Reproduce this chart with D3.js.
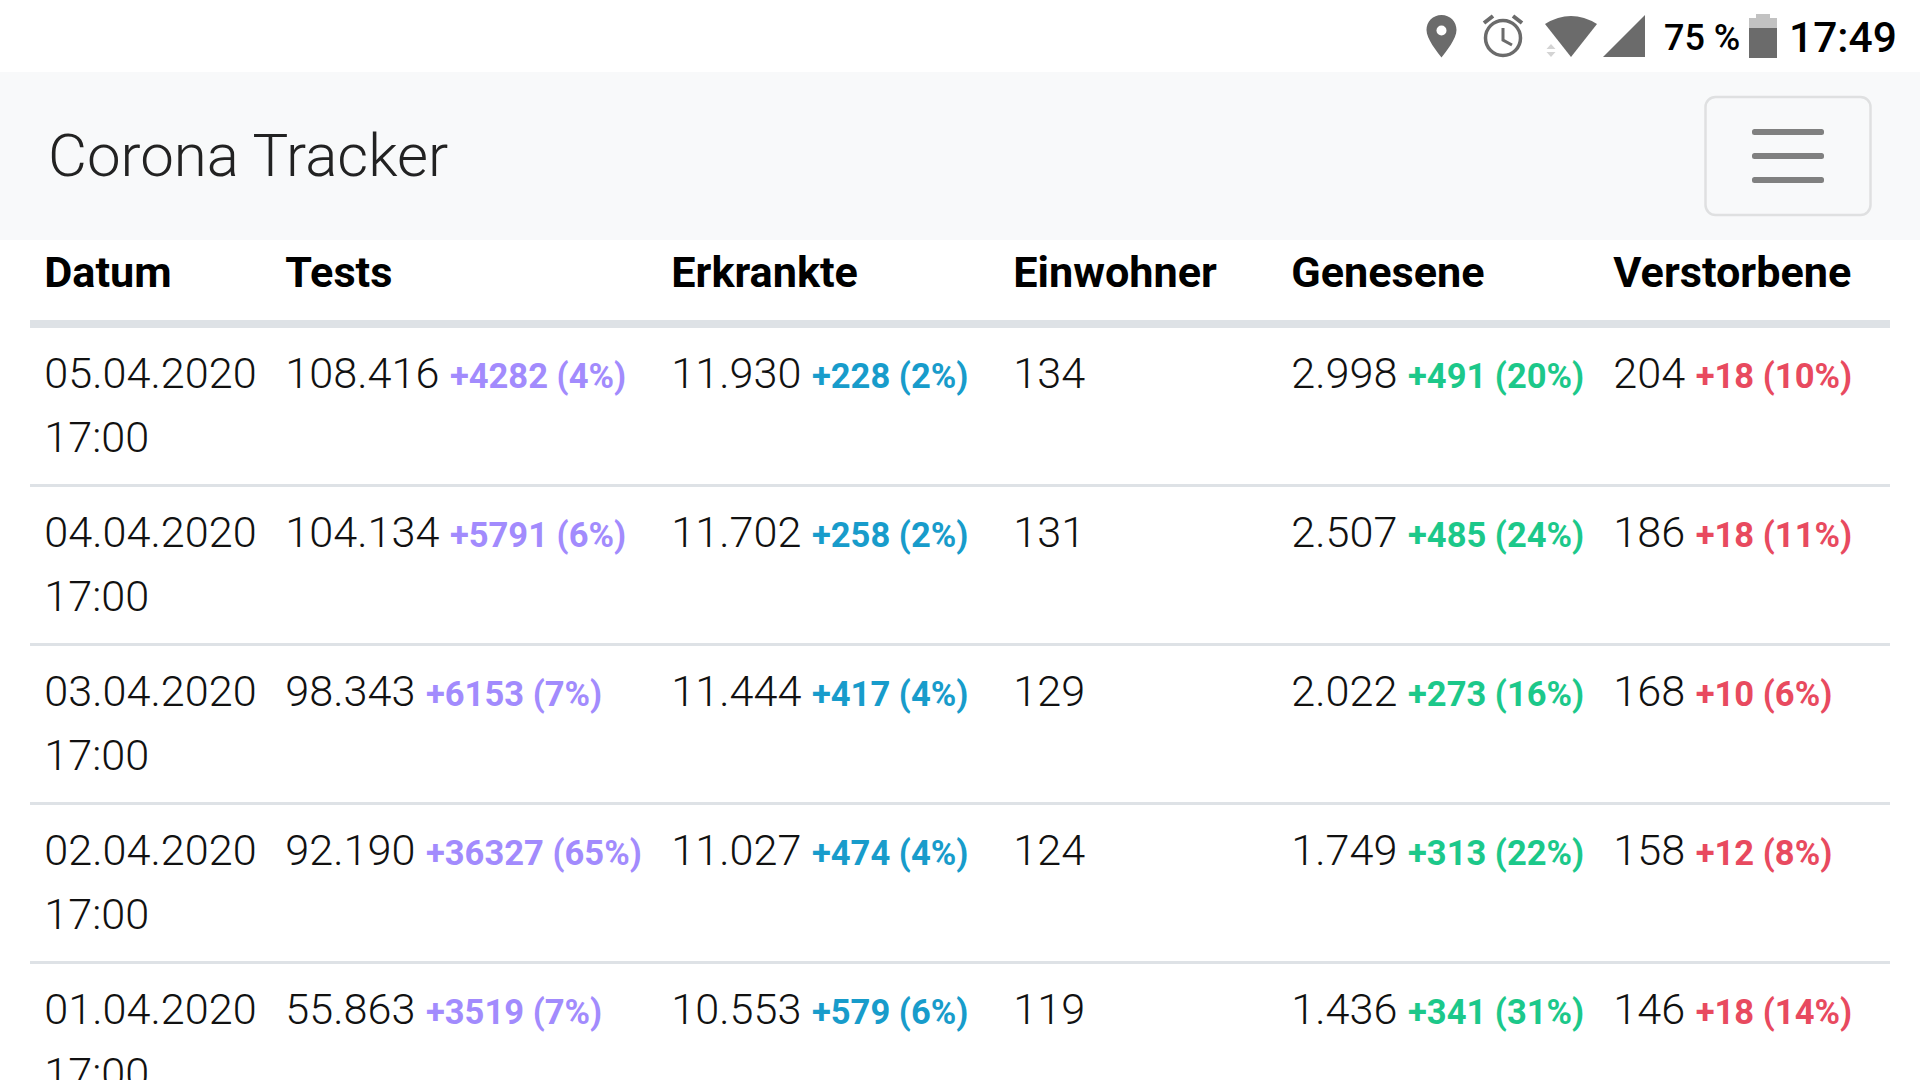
<!DOCTYPE html>
<html>
<head>
<meta charset="utf-8">
<title>Corona Tracker</title>
<script src="https://d3js.org/d3.v7.min.js"></script>
<style>
	html, body { margin: 0; padding: 0; background: #fff; overflow: hidden; }
	svg { display: block; font-family: Roboto, sans-serif; }
	.head { font-size: 43.2px; font-weight: 700; fill: #000; }
	.cell { font-size: 43.2px; font-weight: 300; fill: #111; }
	.delta { font-size: 34.56px; font-weight: 700; }
	.pct { font-size: 34.56px; font-weight: 700; }
</style>
</head>
<body>
<script>
	var columns = ["Datum", "Tests", "Erkrankte", "Einwohner", "Genesene", "Verstorbene"];
	var dates = ["05.04.2020", "04.04.2020", "03.04.2020", "02.04.2020", "01.04.2020"];
	var times = ["17:00", "17:00", "17:00", "17:00", "17:00"];

	var tests = [108416, 104134, 98343, 92190, 55863];
	var testsDelta = [4282, 5791, 6153, 36327, 3519];
	var testsPct = [4, 6, 7, 65, 7];

	var cases = [11930, 11702, 11444, 11027, 10553];
	var casesDelta = [228, 258, 417, 474, 579];
	var casesPct = [2, 2, 4, 4, 6];

	var perCapita = [134, 131, 129, 124, 119];

	var recovered = [2998, 2507, 2022, 1749, 1436];
	var recoveredDelta = [491, 485, 273, 313, 341];
	var recoveredPct = [20, 24, 16, 22, 31];

	var deaths = [204, 186, 168, 158, 146];
	var deathsDelta = [18, 18, 10, 12, 18];
	var deathsPct = [10, 11, 6, 8, 14];

	var width = 1920;
	var height = 1080;
	var svg = d3.select("body").append("svg").attr("width", width).attr("height", height);

	var de = d3.formatLocale({decimal: ",", thousands: ".", grouping: [3], currency: ["", "€"]});
	var fmt = de.format(",d");
	var plainDelta = d3.format("d");

	// column and row positions
	var xCol = d3.scaleOrdinal().domain(columns).range([44.3, 285.3, 671.3, 1013.3, 1291.3, 1613.3]);
	var yRow = d3.scaleLinear().domain([0, 1]).range([388, 547]);
	var lineHeight = 64;

	// status bar + navbar
	svg.append("rect").attr("x", 0).attr("y", 72).attr("width", width).attr("height", 168).attr("fill", "#f8f9fa");
	svg.append("text").attr("x", 48).attr("y", 176)
		.attr("font-size", 60).attr("font-weight", 300).attr("fill", "#222")
		.text("Corona Tracker");

	svg.append("rect").attr("x", 1705.5).attr("y", 97).attr("width", 165).attr("height", 118).attr("rx", 10)
		.attr("fill", "none").attr("stroke", "#dfe0e1").attr("stroke-width", 2.5);
	svg.selectAll(".bar").data([132, 156, 180]).enter().append("rect")
		.attr("class", "bar")
		.attr("x", 1752).attr("y", function(d){ return d - 3; })
		.attr("width", 72).attr("height", 6).attr("rx", 2.5)
		.attr("fill", "#808080");

	var icon = "#6b6b6b";
	// location pin
	svg.append("path")
		.attr("d", "M1441.5 15C1433 15 1426.5 21.500 1426.5 30C1426.5 39 1437 51.500 1441.5 57.500C1446 51.500 1456.500 39 1456.500 30C1456.500 21.500 1450 15 1441.500 15Z")
		.attr("fill", icon);
	svg.append("circle").attr("cx", 1441.5).attr("cy", 30.5).attr("r", 5).attr("fill", "#fff");
	// alarm clock
	svg.append("circle").attr("cx", 1503).attr("cy", 38).attr("r", 17.500).attr("fill", "none").attr("stroke", icon).attr("stroke-width", 3.5);
	svg.append("path").attr("d", "M1503 28V40L1512 45").attr("fill", "none").attr("stroke", icon).attr("stroke-width", 3);
	svg.append("path").attr("d", "M1484 23L1493 16M1522 23L1513 16").attr("fill", "none").attr("stroke", icon).attr("stroke-width", 4);
	// wifi
	svg.append("path").attr("d", "M1545 24Q1571 8 1597 24L1571 57Z").attr("fill", icon);
	svg.append("path").attr("d", "M1551 44L1555.500 49H1546.500ZM1551 57L1555.500 52H1546.500Z").attr("fill", "#d4d4d4");
	// signal
	svg.append("path").attr("d", "M1603 57L1645 15V57Z").attr("fill", icon);
	// battery
	svg.append("path").attr("d", "M1749 28V18H1756V14H1770V18H1777V28Z").attr("fill", "#c2c2c2");
	svg.append("rect").attr("x", 1749).attr("y", 28).attr("width", 28).attr("height", 30).attr("fill", icon);

	svg.append("text").attr("x", 1664).attr("y", 50)
		.attr("font-size", 36).attr("font-weight", 500).attr("fill", "#000").text("75 %");
	svg.append("text").attr("x", 1789).attr("y", 52)
		.attr("font-size", 42.5).attr("font-weight", 500).attr("fill", "#000").text("17:49");

	// table head
	svg.selectAll(".head").data(columns).enter().append("text")
		.attr("class", "head")
		.attr("x", function(d){ return xCol(d); })
		.attr("y", 287)
		.text(function(d){ return d; });
	svg.append("rect").attr("x", 30).attr("y", 320).attr("width", 1860).attr("height", 8).attr("fill", "#dee2e6");

	// row separators
	svg.selectAll(".sep").data(d3.range(dates.length - 1)).enter().append("rect")
		.attr("class", "sep")
		.attr("x", 30).attr("width", 1860)
		.attr("y", function(i){ return yRow(i) + 96; })
		.attr("height", 3)
		.attr("fill", "#dee2e6");

	// date cell
	var dateCell = svg.selectAll(".dateCell").data(dates).enter().append("text")
		.attr("class", "cell dateCell")
		.attr("x", xCol("Datum"))
		.attr("y", function(d, i){ return yRow(i); });
	dateCell.append("tspan").text(function(d){ return d; });
	dateCell.append("tspan")
		.attr("x", xCol("Datum"))
		.attr("dy", lineHeight)
		.text(function(d, i){ return times[i]; });

	// number + delta + percent cells
	function addColumn(name, values, delta, pct, color){
		var cell = svg.selectAll(".c" + name).data(values).enter().append("text")
			.attr("class", "cell c" + name)
			.attr("x", xCol(name))
			.attr("y", function(d, i){ return yRow(i); });
		cell.append("tspan").text(function(d){ return fmt(d) + " "; });
		if (!delta) return;
		cell.append("tspan").attr("class", "delta").style("fill", color)
			.text(function(d, i){ return "+" + plainDelta(delta[i]) + " "; });
		cell.append("tspan").attr("class", "pct").style("fill", color)
			.text(function(d, i){ return "(" + pct[i] + "%)"; });
	}
	addColumn("Tests", tests, testsDelta, testsPct, "#a28bfd");
	addColumn("Erkrankte", cases, casesDelta, casesPct, "#189ccb");
	addColumn("Einwohner", perCapita);
	addColumn("Genesene", recovered, recoveredDelta, recoveredPct, "#1cc88a");
	addColumn("Verstorbene", deaths, deathsDelta, deathsPct, "#e84a5f");
</script>
</body>
</html>
